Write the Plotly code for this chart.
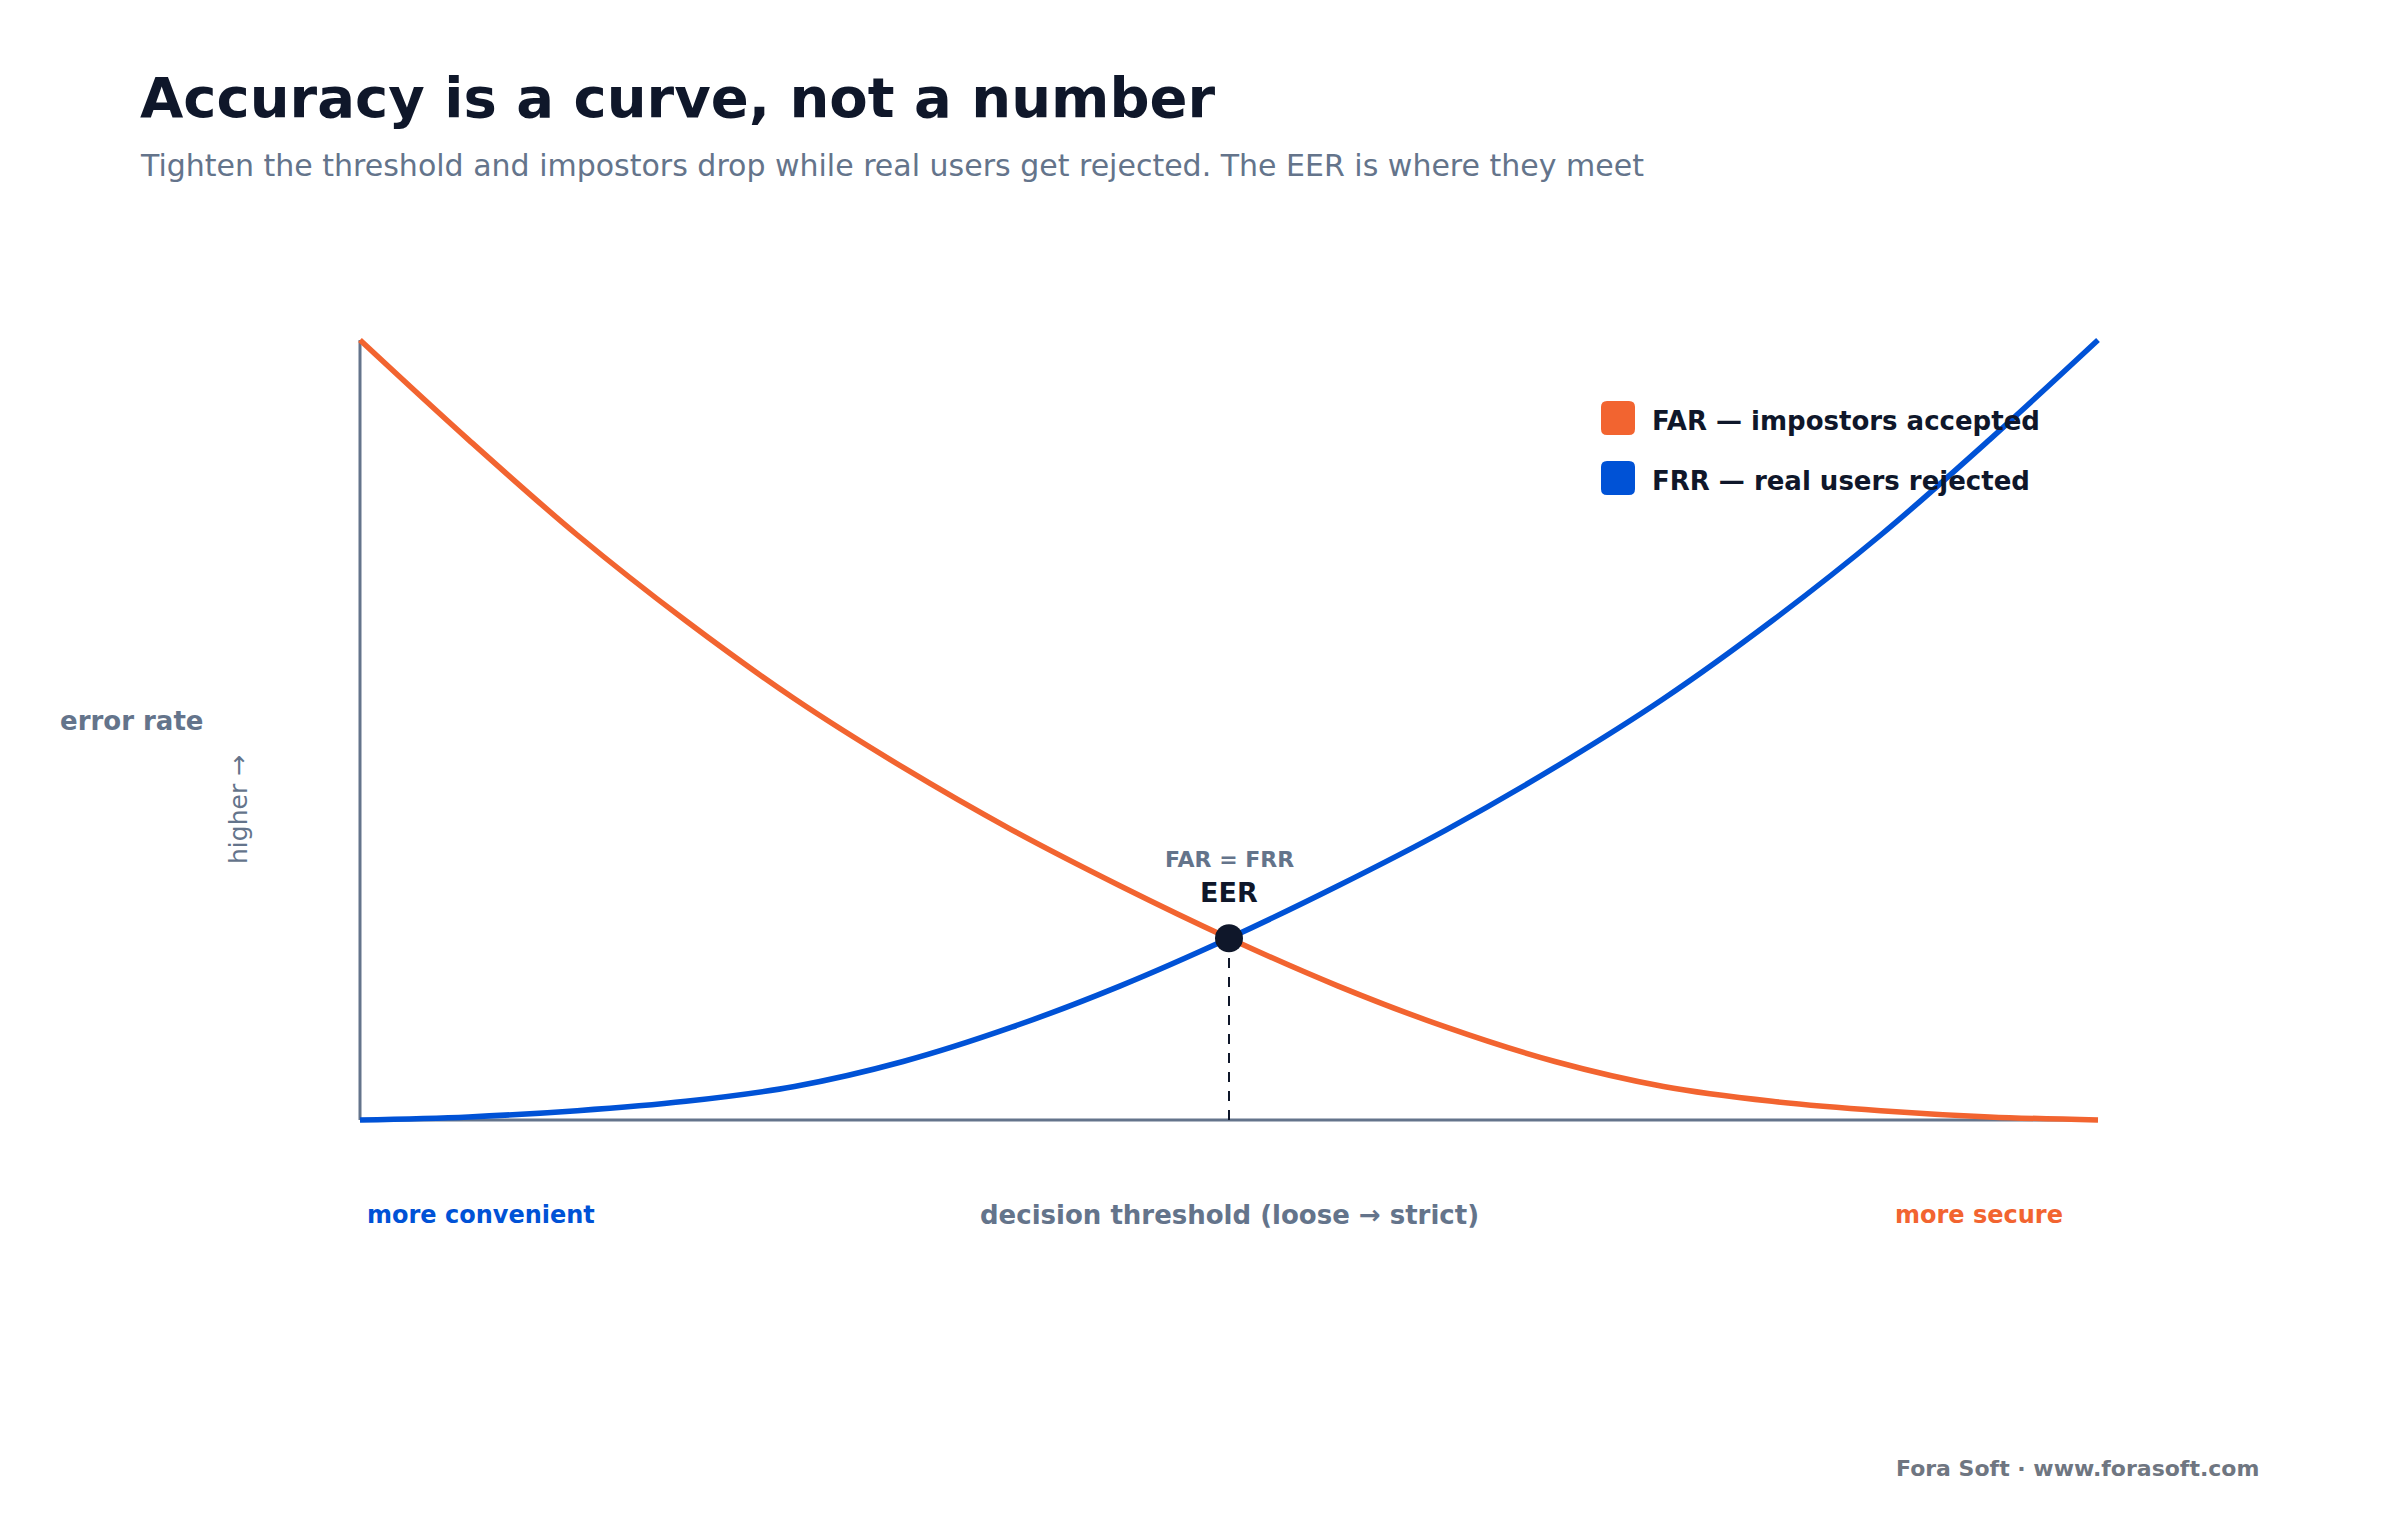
import plotly.graph_objects as go

# ---- data ----
thresholds = [0.0, 0.0625, 0.125, 0.1875, 0.25, 0.3125, 0.375, 0.4375, 0.5,
              0.5625, 0.625, 0.6875, 0.75, 0.8125, 0.875, 0.9375, 1.0]
far_values = [1.0, 0.872, 0.750, 0.640, 0.540, 0.452, 0.372, 0.300, 0.233,
              0.172, 0.119, 0.075, 0.043, 0.024, 0.012, 0.004, 0.0]
frr_values = [0.0, 0.004, 0.012, 0.024, 0.043, 0.075, 0.119, 0.172, 0.233,
              0.300, 0.372, 0.452, 0.540, 0.640, 0.750, 0.872, 1.0]
eer_threshold = 0.5
eer_rate = 0.233

far_name = "FAR — impostors accepted"
frr_name = "FRR — real users rejected"

# ---- styling ----
ORANGE = "#F26430"
BLUE = "#0052D6"
DARK = "#0F172A"
SLATE = "#64748B"
FOOT = "#6F7681"
FONT = "DejaVu Sans"

W_TOT, H_TOT = 2400, 1520
L, R, T, B = 350, 292, 330, 390
PW, PH = W_TOT - L - R, H_TOT - T - B
PAD = 10


def px(x):
    return (x - L) / PW


def py(y):
    return (H_TOT - B - y) / PH


fig = go.Figure()

fig.add_trace(go.Scatter(x=thresholds, y=far_values, mode="lines", name=far_name,
                         line=dict(color=ORANGE, width=5.5, shape="spline", smoothing=1.0),
                         showlegend=False, hoverinfo="skip"))
fig.add_trace(go.Scatter(x=thresholds, y=frr_values, mode="lines", name=frr_name,
                         line=dict(color=BLUE, width=5.5, shape="spline", smoothing=1.0),
                         showlegend=False, hoverinfo="skip"))
# dashed drop line from EER
fig.add_trace(go.Scatter(x=[eer_threshold, eer_threshold], y=[0, eer_rate], mode="lines",
                         line=dict(color=DARK, width=2, dash="10px,9px"),
                         showlegend=False, hoverinfo="skip"))
fig.add_trace(go.Scatter(x=[eer_threshold], y=[eer_rate], mode="markers",
                         marker=dict(color=DARK, size=28, line=dict(width=0)),
                         showlegend=False, hoverinfo="skip", cliponaxis=False))

# axis lines
fig.add_shape(type="line", xref="x", yref="y", x0=0, x1=0, y0=0, y1=1,
              line=dict(color=SLATE, width=3), layer="below")
fig.add_shape(type="line", xref="x", yref="y", x0=0, x1=1, y0=0, y1=0,
              line=dict(color=SLATE, width=3), layer="below")


def rounded_square(x0p, y0p, size, r, color):
    x1p, y1p = x0p + size, y0p + size
    X0, X1 = px(x0p), px(x1p)
    Y0, Y1 = py(y0p), py(y1p)  # Y0 top (larger), Y1 bottom
    rx, ry = r / PW, r / PH
    path = (f"M {X0+rx},{Y0} L {X1-rx},{Y0} Q {X1},{Y0} {X1},{Y0-ry} "
            f"L {X1},{Y1+ry} Q {X1},{Y1} {X1-rx},{Y1} "
            f"L {X0+rx},{Y1} Q {X0},{Y1} {X0},{Y1+ry} "
            f"L {X0},{Y0-ry} Q {X0},{Y0} {X0+rx},{Y0} Z")
    fig.add_shape(type="path", xref="paper", yref="paper", path=path,
                  fillcolor=color, line=dict(width=0), layer="above")


rounded_square(1601, 401, 34, 6, ORANGE)
rounded_square(1601, 461, 34, 6, BLUE)


def note(text, x, y, size, color, bold=False, xanchor="left", angle=0):
    fig.add_annotation(text=text, x=px(x), y=py(y), xref="paper", yref="paper",
                       xanchor=xanchor, yanchor="middle", showarrow=False, textangle=angle,
                       font=dict(family=FONT, size=size, color=color,
                                 weight="bold" if bold else "normal"))


note("Accuracy is a curve, not a number", 138, 97, 56, DARK, bold=True)
note("Tighten the threshold and impostors drop while real users get rejected. The EER is where they meet",
     138, 166, 30, SLATE)
note(far_name, 1650, 421, 26, DARK, bold=True)
note(frr_name, 1650, 481, 26, DARK, bold=True)
note("error rate", 58, 721, 26, SLATE, bold=True)
note("higher →", 238, 810, 25, SLATE, xanchor="center", angle=-90)
note("more convenient", 365, 1215, 24, BLUE, bold=True)
note("decision threshold (loose → strict)", 1229, 1215, 26, SLATE, bold=True, xanchor="center")
note("more secure", 2065, 1215, 24, ORANGE, bold=True, xanchor="right")
note("FAR = FRR", 1229, 859, 22, SLATE, bold=True, xanchor="center")
note("EER", 1229, 892, 27, DARK, bold=True, xanchor="center")
note("Fora Soft · www.forasoft.com", 2261, 1468, 22, FOOT, bold=True, xanchor="right")

fig.update_layout(
    width=W_TOT, height=H_TOT,
    margin=dict(l=L, r=R, t=T, b=B, pad=0),
    paper_bgcolor="white", plot_bgcolor="white",
    font=dict(family=FONT),
    xaxis=dict(visible=False, range=[-PAD / (PW - 2 * PAD), 1 + PAD / (PW - 2 * PAD)], fixedrange=True),
    yaxis=dict(visible=False, range=[-PAD / (PH - 2 * PAD), 1 + PAD / (PH - 2 * PAD)], fixedrange=True),
    showlegend=False,
)

fig.write_html("out.html")
